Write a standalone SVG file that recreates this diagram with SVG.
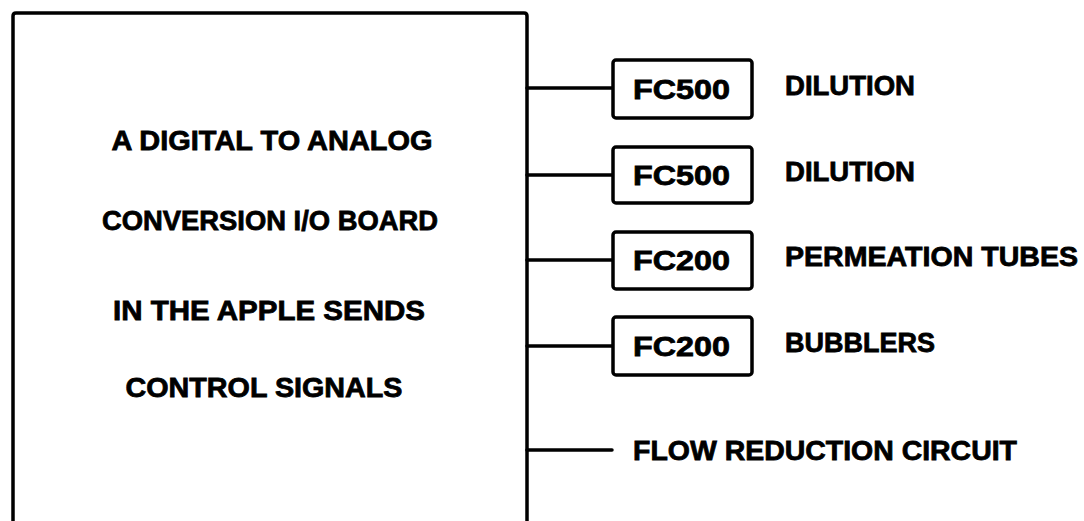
<svg xmlns="http://www.w3.org/2000/svg" width="1084" height="521" viewBox="0 0 1084 521">
<style>
.ln{fill:none;stroke:#000;stroke-width:3.5;stroke-linejoin:round;stroke-linecap:round}
.bx{fill:#fff;stroke:#000;stroke-width:3.5}
text{font-family:"Liberation Sans",Arial,sans-serif;font-weight:bold;font-size:28px;fill:#000;stroke:#000;stroke-width:0.8}
.c{text-anchor:middle}
</style>
<rect width="1084" height="521" fill="#fff"/>
<g id="board">
<path class="ln" d="M13,523 V16 Q13,13 16,13 H524 Q527,13 527,16 V523"/>
<text class="c" x="272" y="150" textLength="321" lengthAdjust="spacingAndGlyphs">A DIGITAL TO ANALOG</text>
<text class="c" x="270" y="230" textLength="336" lengthAdjust="spacingAndGlyphs">CONVERSION I/O BOARD</text>
<text class="c" x="269" y="320" textLength="312" lengthAdjust="spacingAndGlyphs">IN THE APPLE SENDS</text>
<text class="c" x="264" y="397" textLength="277" lengthAdjust="spacingAndGlyphs">CONTROL SIGNALS</text>
</g>
<g id="connectors">
<line class="ln" x1="527" y1="88" x2="613" y2="88"/>
<line class="ln" x1="527" y1="175" x2="613" y2="175"/>
<line class="ln" x1="527" y1="260" x2="613" y2="260"/>
<line class="ln" x1="527" y1="346" x2="613" y2="346"/>
<line class="ln" x1="527" y1="450" x2="612" y2="450"/>
</g>
<g id="fc1">
<rect class="bx" x="613" y="60" width="139" height="58" rx="3"/>
<text x="633" y="99" textLength="97" lengthAdjust="spacingAndGlyphs">FC500</text>
<text x="785" y="95" textLength="130" lengthAdjust="spacingAndGlyphs">DILUTION</text>
</g>
<g id="fc2">
<rect class="bx" x="613" y="147" width="139" height="56" rx="3"/>
<text x="633" y="185" textLength="97" lengthAdjust="spacingAndGlyphs">FC500</text>
<text x="785" y="181" textLength="130" lengthAdjust="spacingAndGlyphs">DILUTION</text>
</g>
<g id="fc3">
<rect class="bx" x="613" y="232" width="139" height="57" rx="3"/>
<text x="633" y="270" textLength="97" lengthAdjust="spacingAndGlyphs">FC200</text>
<text x="785" y="266" textLength="293" lengthAdjust="spacingAndGlyphs">PERMEATION TUBES</text>
</g>
<g id="fc4">
<rect class="bx" x="613" y="317" width="139" height="58" rx="3"/>
<text x="633" y="356" textLength="97" lengthAdjust="spacingAndGlyphs">FC200</text>
<text x="785" y="352" textLength="150" lengthAdjust="spacingAndGlyphs">BUBBLERS</text>
</g>
<g id="flow">
<text x="633" y="460" textLength="384" lengthAdjust="spacingAndGlyphs">FLOW REDUCTION CIRCUIT</text>
</g>
</svg>
